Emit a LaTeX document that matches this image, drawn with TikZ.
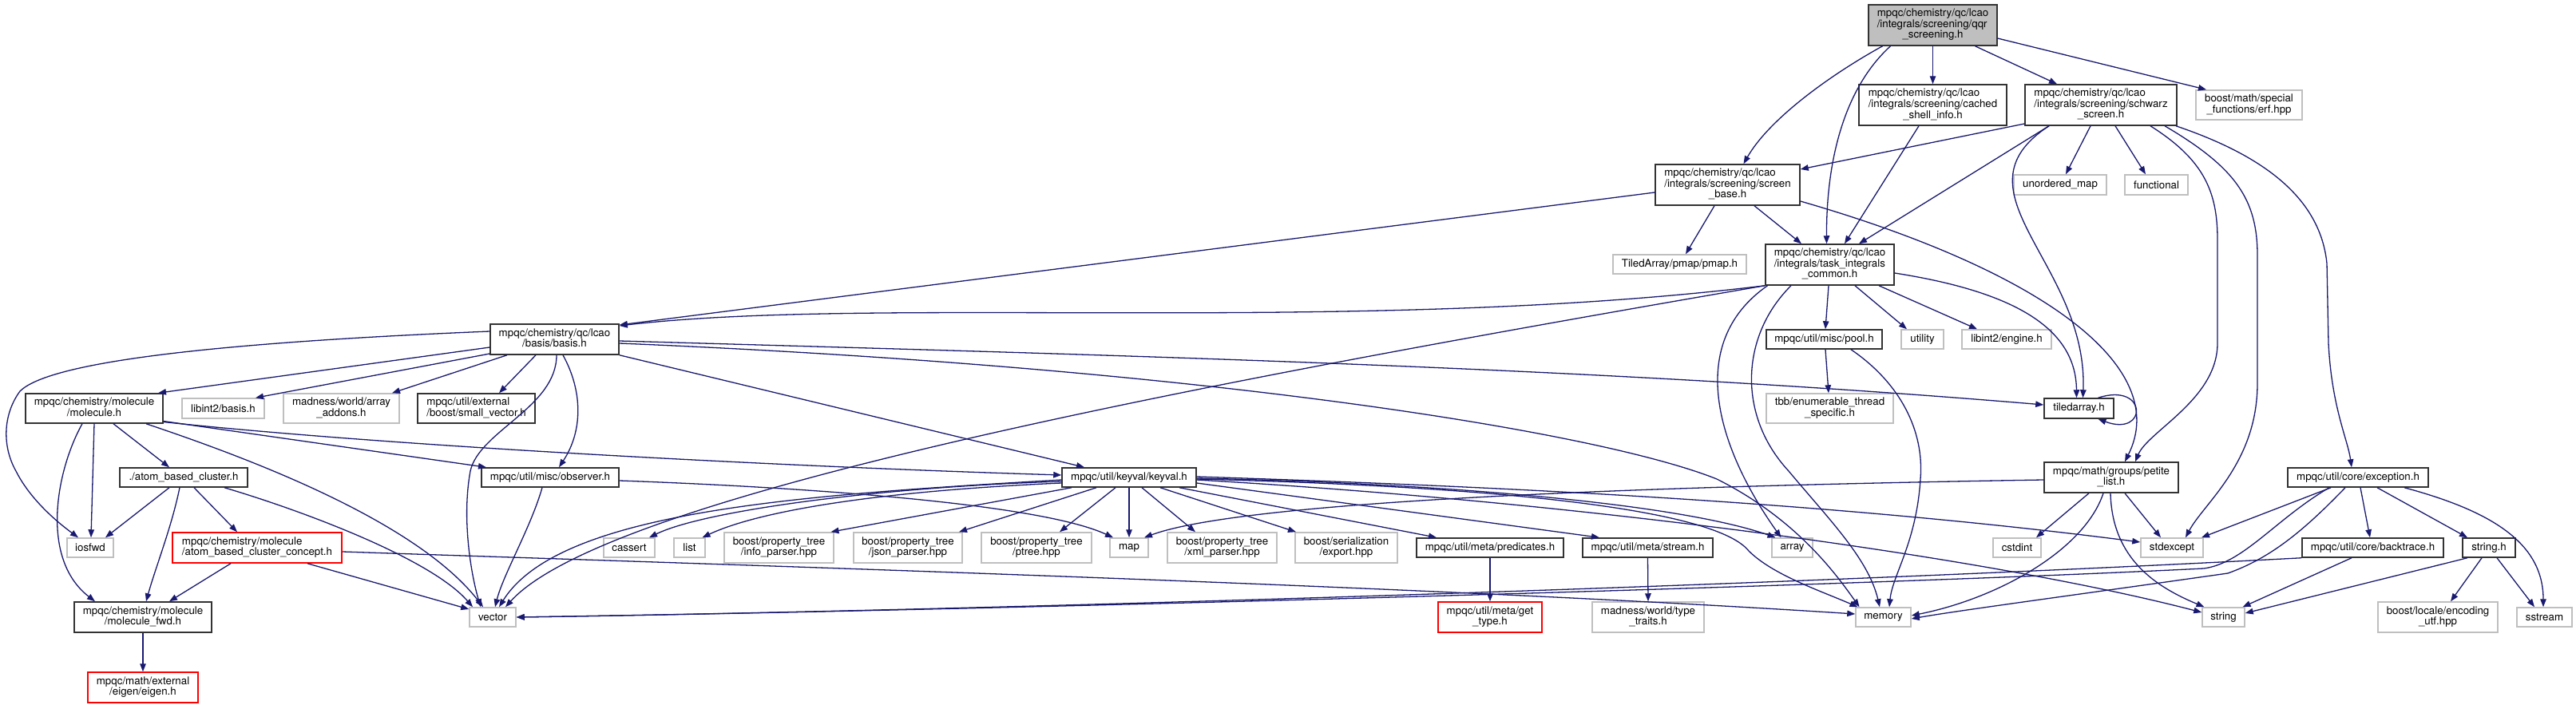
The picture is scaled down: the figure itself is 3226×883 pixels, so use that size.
\documentclass[tikz,border=0pt]{standalone}
\usepackage{fontspec}
\setmainfont{TeX Gyre Heros}
\usetikzlibrary{arrows.meta}
\definecolor{edgec}{HTML}{191970}
\definecolor{grayb}{HTML}{BFBFBF}
\definecolor{blackb}{HTML}{333333}
\definecolor{redb}{HTML}{FF0000}
\definecolor{mainfill}{HTML}{BFBFBF}
\newcommand{\fsz}{\fontsize{13.3pt}{13pt}\selectfont}
\newcommand{\lab}[2]{\begin{tabular}{@{}l@{}}#1\\\multicolumn{1}{@{}c@{}}{#2}\end{tabular}}
\newcommand{\mynode}[7]{\node[box,#2,minimum width=#5pt,minimum height=#6pt] (#1) at (#3,#4) {#7};}
\begin{document}
\begin{tikzpicture}[x=1pt,y=-1pt,
  box/.style={draw,rectangle,inner sep=0pt,line width=1.5pt,font=\fsz,fill=white},
  nb/.style={draw=blackb},
  ng/.style={draw=grayb},
  nr/.style={draw=redb},
  dep/.style={draw=edgec,line width=1.3pt,-{Triangle[length=10pt,width=7.5pt]}}]
\useasboundingbox (0,0) rectangle (3226,883);
\fill[white] (0,0) rectangle (3226,883);

\mynode{main}{nb,fill=mainfill}{2420.5}{31.5}{161}{51}{\lab{mpqc/chemistry/qc/lcao\\/integrals/screening/qqr}{\_screening.h}}
\mynode{cached}{nb}{2420.5}{131.5}{185}{51}{\lab{mpqc/chemistry/qc/lcao\\/integrals/screening/cached}{\_shell\_info.h}}
\mynode{schwarz}{nb}{2631}{131.5}{190}{51}{\lab{mpqc/chemistry/qc/lcao\\/integrals/screening/schwarz}{\_screen.h}}
\mynode{erf}{ng}{2816.5}{131.5}{133}{37}{\lab{boost/math/special}{\_functions/erf.hpp}}
\mynode{screenbase}{nb}{2163.5}{231.5}{181}{51}{\lab{mpqc/chemistry/qc/lcao\\/integrals/screening/screen}{\_base.h}}
\mynode{umap}{ng}{2580}{231.5}{116}{25}{unordered\_map}
\mynode{functional}{ng}{2700.5}{231.5}{79}{25}{functional}
\mynode{pmap}{ng}{2103.5}{331}{167}{24}{TiledArray/pmap/pmap.h}
\mynode{task}{nb}{2291.5}{331.5}{161}{51}{\lab{mpqc/chemistry/qc/lcao\\/integrals/task\_integrals}{\_common.h}}
\mynode{basis}{nb}{694.5}{425}{161}{38}{\lab{mpqc/chemistry/qc/lcao}{/basis/basis.h}}
\mynode{pool}{nb}{2284.5}{425}{145}{24}{mpqc/util/misc/pool.h}
\mynode{utility}{ng}{2407.5}{425}{53}{24}{utility}
\mynode{engine}{ng}{2513}{425}{112}{24}{libint2/engine.h}
\mynode{molecule}{nb}{118}{511.5}{172}{37}{\lab{mpqc/chemistry/molecule}{/molecule.h}}
\mynode{libbasis}{ng}{279.5}{511.5}{103}{25}{libint2/basis.h}
\mynode{addons}{ng}{427.5}{511.5}{145}{37}{\lab{madness/world/array}{\_addons.h}}
\mynode{smallvec}{nb}{596.5}{511.5}{147}{37}{\lab{mpqc/util/external}{/boost/small\_vector.h}}
\mynode{tbb}{ng}{2291.5}{511.5}{159}{37}{\lab{tbb/enumerable\_thread}{\_specific.h}}
\mynode{tiledarray}{nb}{2603.5}{511.5}{87}{25}{tiledarray.h}
\mynode{abc}{nb}{230}{598}{160}{24}{./atom\_based\_cluster.h}
\mynode{observer}{nb}{689}{598}{172}{24}{mpqc/util/misc/observer.h}
\mynode{keyval}{nb}{1414}{598}{168}{24}{mpqc/util/keyval/keyval.h}
\mynode{petite}{nb}{2644}{598}{168}{38}{\lab{mpqc/math/groups/petite}{\_list.h}}
\mynode{exception}{nb}{2953}{598}{176}{24}{mpqc/util/core/exception.h}
\mynode{iosfwd}{ng}{113}{686}{58}{24}{iosfwd}
\mynode{concept}{nr}{322}{686}{212}{38}{\lab{mpqc/chemistry/molecule}{/atom\_based\_cluster\_concept.h}}
\mynode{cassert}{ng}{788}{686}{64}{24}{cassert}
\mynode{list}{ng}{863.5}{686}{39}{24}{list}
\mynode{info}{ng}{975.5}{686}{137}{38}{\lab{boost/property\_tree}{/info\_parser.hpp}}
\mynode{json}{ng}{1137}{686}{136}{38}{\lab{boost/property\_tree}{/json\_parser.hpp}}
\mynode{ptree}{ng}{1298}{686}{138}{38}{\lab{boost/property\_tree}{/ptree.hpp}}
\mynode{map}{ng}{1414}{686}{48}{24}{map}
\mynode{xml}{ng}{1530.5}{686}{137}{38}{\lab{boost/property\_tree}{/xml\_parser.hpp}}
\mynode{export}{ng}{1686}{686}{128}{38}{\lab{boost/serialization}{/export.hpp}}
\mynode{predicates}{nb}{1866}{686}{184}{24}{mpqc/util/meta/predicates.h}
\mynode{stream}{nb}{2063.5}{686}{163}{24}{mpqc/util/meta/stream.h}
\mynode{array}{ng}{2244.5}{686}{51}{24}{array}
\mynode{cstdint}{ng}{2526}{686}{60}{24}{cstdint}
\mynode{stdexcept}{ng}{2720}{686}{78}{24}{stdexcept}
\mynode{backtrace}{nb}{2971.5}{686}{177}{24}{mpqc/util/core/backtrace.h}
\mynode{stringh}{nb}{3117}{686}{66}{24}{string.h}
\mynode{vector}{ng}{617}{773}{58}{24}{vector}
\mynode{molfwd}{nb}{179}{773}{172}{38}{\lab{mpqc/chemistry/molecule}{/molecule\_fwd.h}}
\mynode{gettype}{nr}{1866}{773}{130}{38}{\lab{mpqc/util/meta/get}{\_type.h}}
\mynode{typetraits}{ng}{2064}{773}{140}{38}{\lab{madness/world/type}{\_traits.h}}
\mynode{memory}{ng}{2358.5}{773}{69}{24}{memory}
\mynode{string}{ng}{2784.5}{773}{53}{24}{string}
\mynode{locale}{ng}{3053}{773}{150}{38}{\lab{boost/locale/encoding}{\_utf.hpp}}
\mynode{sstream}{ng}{3186.5}{773}{69}{24}{sstream}
\mynode{eigen}{nr}{179}{861}{138}{38}{\lab{mpqc/math/external}{/eigen/eigen.h}}

% main
\draw[dep] ([xshift=-63pt]main.south) .. controls (2290,95) and (2215,150) .. ([xshift=20pt]screenbase.north);
\draw[dep] ([xshift=-53pt]main.south) .. controls (2310,110) and (2287,200) .. ([xshift=-4pt]task.north);
\draw[dep] (main.south) -- (cached.north);
\draw[dep] ([xshift=53pt]main.south) -- ([xshift=-55pt]schwarz.north);
\draw[dep] ([yshift=-16.5pt]main.east) -- ([xshift=-53.5pt]erf.north);
% cached
\draw[dep] ([xshift=-17.5pt]cached.south) -- ([xshift=18.5pt]task.north);
% schwarz
\draw[dep] ([yshift=-23.5pt]schwarz.west) -- ([yshift=19.5pt]screenbase.east);
\draw[dep] ([xshift=-65pt]schwarz.south) -- ([xshift=36.5pt]task.north);
\draw[dep] ([xshift=-13pt]schwarz.south) -- ([xshift=7pt]umap.north);
\draw[dep] ([xshift=18pt]schwarz.south) -- ([xshift=-13.5pt]functional.north);
\draw[dep] ([xshift=-65pt]schwarz.south) .. controls (2440,240) and (2615,330) .. ([xshift=5pt]tiledarray.north);
\draw[dep] ([xshift=62pt]schwarz.south) .. controls (2760,200) and (2777,240) .. (2777,300) -- (2777,430) .. controls (2777,500) and (2690,540) .. ([xshift=30pt]petite.north);
\draw[dep] ([xshift=80pt]schwarz.south) .. controls (2800,210) and (2827,250) .. (2827,320) -- (2827,480) .. controls (2827,580) and (2760,630) .. ([xshift=17pt]stdexcept.north);
\draw[dep] ([xshift=94pt]schwarz.south) .. controls (2820,190) and (2905,240) .. (2914,330) -- (2916,430) .. controls (2920,510) and (2940,550) .. ([xshift=-8pt]exception.north);
% screen base
\draw[dep] ([yshift=-9.5pt]screenbase.west) -- ([yshift=18pt]basis.east);
\draw[dep] ([xshift=-16.5pt]screenbase.south) -- ([xshift=7.5pt]pmap.north);
\draw[dep] ([xshift=33.5pt]screenbase.south) -- ([xshift=-35.5pt]task.north);
\draw[dep] ([yshift=-20.5pt]screenbase.east) .. controls (2560,340) and (2720,460) .. ([xshift=17pt]petite.north);
% task
\draw[dep] (task.south west) .. controls (1700,420) and (1100,370) .. ([yshift=17pt]basis.east);
\draw[dep] (task.south west) .. controls (1500,480) and (760,620) .. ([xshift=16pt]vector.north);
\draw[dep] ([xshift=-1.5pt]task.south) -- ([xshift=1.5pt]pool.north);
\draw[dep] ([xshift=31.5pt]task.south) -- ([xshift=-19.5pt]utility.north);
\draw[dep] ([xshift=61.5pt]task.south) -- ([xshift=-37pt]engine.north);
\draw[dep] ([yshift=-10.5pt]task.east) .. controls (2520,365) and (2600,410) .. ([xshift=-3pt]tiledarray.north);
\draw[dep] ([xshift=-78pt]task.south) .. controls (2110,430) and (2150,560) .. ([xshift=-14pt]array.north);
\draw[dep] ([xshift=-48.5pt]task.south) .. controls (2180,420) and (2175,520) .. (2240,590) .. controls (2290,650) and (2340,700) .. ([xshift=-4.5pt]memory.north);
% pool
\draw[dep] ([xshift=1.5pt]pool.south) -- ([xshift=-1.5pt]tbb.north);
\draw[dep] ([xshift=33.5pt]pool.south) .. controls (2380,480) and (2410,540) .. (2405,600) .. controls (2400,680) and (2370,720) .. ([xshift=7.5pt]memory.north);
% basis
\draw[dep] ([yshift=10pt]basis.west) .. controls (250,430) and (60,455) .. (25,490) .. controls (3,520) and (3,560) .. (20,590) .. controls (40,630) and (80,660) .. ([xshift=-15pt]iosfwd.north);
\draw[dep] ([yshift=-10pt]basis.west) -- ([xshift=80pt]molecule.north);
\draw[dep] ([yshift=-18pt]basis.west) -- ([xshift=40.5pt]libbasis.north);
\draw[dep] ([xshift=-59.5pt]basis.south) -- ([xshift=63.5pt]addons.north);
\draw[dep] ([xshift=-23.5pt]basis.south) -- ([xshift=28.5pt]smallvec.north);
\draw[dep] ([xshift=2.5pt]basis.south) .. controls (697,510) and (600,540) .. (589,590) .. controls (578,650) and (590,720) .. ([xshift=-15pt]vector.north);
\draw[dep] ([xshift=10.5pt]basis.south) .. controls (730,490) and (730,540) .. ([xshift=11pt]observer.north);
\draw[dep] ([yshift=-2pt]basis.east) .. controls (1400,445) and (2000,460) .. ([yshift=4.5pt]tiledarray.west);
\draw[dep] ([yshift=-5pt]basis.east) .. controls (1500,460) and (2000,540) .. (2150,600) .. controls (2250,650) and (2300,720) .. ([xshift=-30pt]memory.north);
\draw[dep] (basis.south east) -- ([xshift=-56pt]keyval.north);
% molecule
\draw[dep] (molecule.south) -- ([xshift=1pt]iosfwd.north);
\draw[dep] ([xshift=-15pt]molecule.south) .. controls (70,590) and (50,700) .. ([xshift=-60pt]molfwd.north);
\draw[dep] ([xshift=24pt]molecule.south) -- ([xshift=-18pt]abc.north);
\draw[dep] ([xshift=65pt]molecule.south) .. controls (300,570) and (520,650) .. ([xshift=-12pt]vector.north);
\draw[dep] ([yshift=-16pt]molecule.east) -- ([xshift=-80pt]observer.north);
\draw[dep] ([yshift=-17pt]molecule.east) .. controls (500,560) and (1000,585) .. ([yshift=3pt]keyval.west);
% atom based cluster
\draw[dep] ([xshift=-18pt]abc.south) -- ([xshift=19pt]iosfwd.north);
\draw[dep] ([xshift=-5pt]abc.south) .. controls (215,660) and (195,710) .. ([xshift=4pt]molfwd.north);
\draw[dep] ([xshift=13pt]abc.south) -- ([xshift=-25pt]concept.north);
\draw[dep] ([xshift=51pt]abc.south) .. controls (380,640) and (540,700) .. ([xshift=-25pt]vector.north);
% concept
\draw[dep] ([xshift=-33pt]concept.south) -- ([xshift=33pt]molfwd.north);
\draw[dep] ([xshift=63pt]concept.south) -- ([yshift=10pt]vector.west);
\draw[dep] ([yshift=-5pt]concept.east) .. controls (1000,710) and (1800,735) .. ([yshift=4pt]memory.west);
\draw[dep] (molfwd.south) -- (eigen.north);
% observer
\draw[dep] ([xshift=-10pt]observer.south) .. controls (665,660) and (630,720) .. ([xshift=3pt]vector.north);
\draw[dep] ([yshift=-4pt]observer.east) .. controls (1000,610) and (1300,630) .. ([xshift=-20pt]map.north);
% keyval
\draw[dep] ([yshift=-3pt]keyval.west) .. controls (1000,620) and (700,640) .. ([xshift=8pt]vector.north);
\draw[dep] ([yshift=-5pt]keyval.west) .. controls (1100,610) and (880,640) .. ([xshift=25pt]cassert.north);
\draw[dep] ([yshift=-7pt]keyval.west) .. controls (1100,615) and (950,640) .. ([xshift=16pt]list.north);
\draw[dep] ([xshift=-72pt]keyval.south) -- ([xshift=65pt]info.north);
\draw[dep] ([xshift=-41pt]keyval.south) -- ([xshift=64pt]json.north);
\draw[dep] ([xshift=-17pt]keyval.south) -- ([xshift=29pt]ptree.north);
\draw[dep] (keyval.south) -- (map.north);
\draw[dep] ([xshift=16pt]keyval.south) -- ([xshift=-33.5pt]xml.north);
\draw[dep] ([xshift=39pt]keyval.south) -- ([xshift=-63pt]export.north);
\draw[dep] ([xshift=63pt]keyval.south) -- ([xshift=-67pt]predicates.north);
\draw[dep] ([yshift=-7pt]keyval.east) -- ([xshift=-60.5pt]stream.north);
\draw[dep] ([yshift=-1pt]keyval.east) .. controls (1800,605) and (2100,630) .. ([xshift=-21pt]array.north);
\draw[dep] ([yshift=-2pt]keyval.east) .. controls (1900,610) and (2150,640) .. (2190,690) .. controls (2220,720) and (2280,740) .. ([xshift=-32pt]memory.north);
\draw[dep] ([yshift=1pt]keyval.east) .. controls (1900,610) and (2300,630) .. ([yshift=7pt]stdexcept.west);
\draw[dep] ([yshift=-3pt]keyval.east) .. controls (2000,630) and (2500,700) .. ([yshift=6pt]string.west);
% petite
\draw[dep] ([yshift=-3pt]petite.west) .. controls (2000,610) and (1550,630) .. ([xshift=19pt]map.north);
\draw[dep] ([xshift=-28pt]petite.south) -- ([xshift=24pt]cstdint.north);
\draw[dep] ([xshift=-10pt]petite.south) .. controls (2610,690) and (2500,750) .. ([yshift=2pt]memory.east);
\draw[dep] ([xshift=-1pt]petite.south) .. controls (2645,700) and (2700,735) .. ([xshift=-24pt]string.north);
\draw[dep] ([xshift=17pt]petite.south) -- ([xshift=-14pt]stdexcept.north);
% exception
\draw[dep] ([xshift=-34pt]exception.south) -- ([xshift=37pt]stdexcept.north);
\draw[dep] ([xshift=-36pt]exception.south) .. controls (2850,650) and (2810,705) .. (2760,712) .. controls (2300,735) and (1200,765) .. (vector.east);
\draw[dep] ([xshift=-16pt]exception.south) .. controls (2880,670) and (2840,700) .. (2790,718) .. controls (2600,745) and (2450,765) .. ([yshift=-2pt]memory.east);
\draw[dep] ([xshift=3pt]exception.south) -- ([xshift=-3.5pt]backtrace.north);
\draw[dep] ([xshift=24pt]exception.south) -- ([xshift=-27pt]stringh.north);
\draw[dep] ([xshift=58pt]exception.south) .. controls (3120,640) and (3185,680) .. ([xshift=-1.5pt]sstream.north);
% backtrace
\draw[dep] (backtrace.south west) .. controls (2200,735) and (1200,765) .. (vector.east);
\draw[dep] ([xshift=-26.5pt]backtrace.south) -- ([xshift=24pt]string.north);
% string.h
\draw[dep] ([xshift=-27pt]stringh.south) -- ([yshift=5pt]string.east);
\draw[dep] ([xshift=-9pt]stringh.south) -- ([xshift=16pt]locale.north);
\draw[dep] ([xshift=10pt]stringh.south) -- ([xshift=-12.5pt]sstream.north);
% meta
\draw[dep] (predicates.south) -- (gettype.north);
\draw[dep] (stream.south) -- (typetraits.north);
% self loop
\draw[dep] ([xshift=24pt]tiledarray.north) .. controls (2690,478) and (2690,548) .. ([xshift=24pt]tiledarray.south);
\end{tikzpicture}
\end{document}
